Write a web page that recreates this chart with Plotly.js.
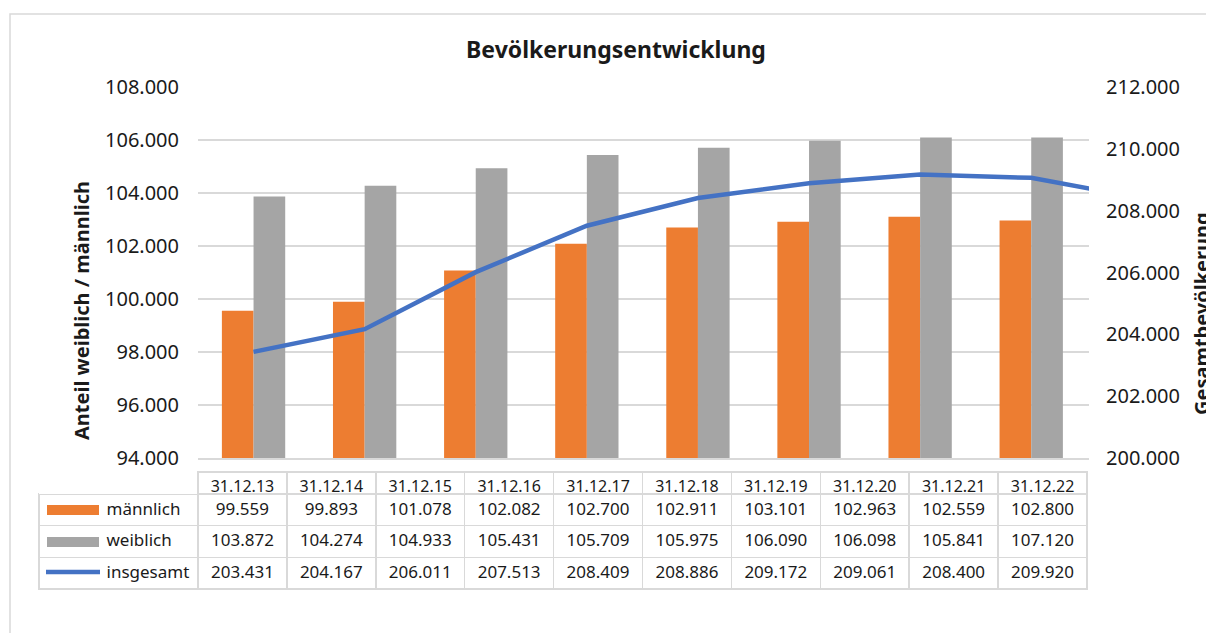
<!DOCTYPE html>
<html>
<head>
<meta charset="utf-8">
<script src="https://cdn.plot.ly/plotly-3.0.1.min.js"></script>
<style>
  html, body { margin: 0; padding: 0; background: #fff; }
  #chart { width: 1206px; height: 633px; }
</style>
</head>
<body>
<div id="chart"></div>
<script>
// ---- data ----
const categories = ['31.12.13', '31.12.14', '31.12.15', '31.12.16', '31.12.17', '31.12.18', '31.12.19', '31.12.20', '31.12.21', '31.12.22'];
const seriesNames = ['männlich', 'weiblich', 'insgesamt'];
const maennlich = [99559, 99893, 101078, 102082, 102700, 102911, 103101, 102963, 102559, 102800];
const weiblich  = [103872, 104274, 104933, 105431, 105709, 105975, 106090, 106098, 105841, 107120];
const insgesamt = [203431, 204167, 206011, 207513, 208409, 208886, 209172, 209061, 208400, 209920];
const leftTicks  = [94000, 96000, 98000, 100000, 102000, 104000, 106000, 108000];
const rightTicks = [200000, 202000, 204000, 206000, 208000, 210000, 212000];
const chartTitle = 'Bevölkerungsentwicklung';
const leftTitle = 'Anteil weiblich / männlich';
const rightTitle = 'Gesamtbevölkerung';

// ---- styles ----
const W = 1206, H = 633;
const FONT = '"Noto Sans", "Open Sans", sans-serif';
const cOrange = '#ED7D31', cGrey = '#A5A5A5', cBlue = '#4472C4';
const cGrid = '#D9D9D9', cText = '#1a1a1a';

function fmt(v) { return String(v).replace(/\B(?=(\d{3})+(?!\d))/g, '.'); }
function px(x) { return x / W; }
function py(y) { return 1 - y / H; }

const nCol = categories.length + 1;
const traces = [
  { type: 'bar', name: seriesNames[0], x: categories, y: maennlich, marker: { color: cOrange }, xaxis: 'x', yaxis: 'y', hoverinfo: 'x+y' },
  { type: 'bar', name: seriesNames[1], x: categories, y: weiblich, marker: { color: cGrey }, xaxis: 'x', yaxis: 'y', hoverinfo: 'x+y' },
  { type: 'scatter', mode: 'lines', name: seriesNames[2], x: categories, y: insgesamt, line: { color: cBlue, width: 4.5 }, xaxis: 'x', yaxis: 'y2', hoverinfo: 'x+y' },
  {
    type: 'table',
    domain: { x: [px(39), px(1087)], y: [py(620), py(472)] },
    columnwidth: [159].concat(categories.map(() => 88.9)),
    header: {
      values: [''].concat(categories),
      height: 22,
      align: 'center',
      line: { color: [ 'rgba(0,0,0,0)' ].concat(categories.map(() => cGrid)), width: [0].concat(categories.map(() => 1.5)) },
      fill: { color: 'white' },
      font: { family: FONT, size: 16, color: cText }
    },
    cells: {
      values: [seriesNames.map(n => '\u2003\u2003\u2003\u2002' + n)].concat(
        categories.map((c, i) => [fmt(maennlich[i]), fmt(weiblich[i]), fmt(insgesamt[i])])
      ),
      height: 31.7,
      align: ['left'].concat(categories.map(() => 'center')),
      line: { color: cGrid, width: 1.5 },
      fill: { color: 'white' },
      font: { family: FONT, size: 17, color: cText }
    }
  }
];

const layout = {
  width: W, height: H,
  margin: { l: 0, r: 0, t: 0, b: 0 },
  paper_bgcolor: 'white', plot_bgcolor: 'white',
  separators: ',.',
  font: { family: FONT, color: cText },
  showlegend: false,
  barmode: 'group',
  bargap: 0.43,
  bargroupgap: 0,
  title: {
    text: '<b>' + chartTitle + '</b>',
    font: { family: FONT, size: 23, color: cText },
    x: px(616), xref: 'paper', xanchor: 'center',
    y: py(50), yref: 'paper', yanchor: 'middle'
  },
  xaxis: {
    domain: [px(198), px(1089)],
    type: 'category',
    range: [-0.5, 7.52],
    showticklabels: false,
    ticks: '',
    showgrid: false,
    showline: true, linecolor: cGrid, linewidth: 1.5,
    zeroline: false
  },
  yaxis: {
    domain: [py(458), py(87)],
    range: [94000, 108000],
    tickvals: leftTicks,
    tickformat: ',.0f',
    tickfont: { family: FONT, size: 20, color: cText },
    ticks: '', ticklabelstandoff: 18,
    showgrid: true, gridcolor: cGrid, gridwidth: 1.5,
    zeroline: false, showline: false
  },
  yaxis2: {
    overlaying: 'y', side: 'right', anchor: 'x',
    range: [200000, 212000],
    tickvals: rightTicks,
    tickformat: ',.0f',
    tickfont: { family: FONT, size: 20, color: cText },
    ticks: '', ticklabelstandoff: 16,
    showgrid: false, zeroline: false, showline: false
  },
  annotations: [
    { text: '<b>' + leftTitle + '</b>', textangle: -90, xref: 'paper', yref: 'paper', x: px(82), y: py(311), xanchor: 'center', yanchor: 'middle', showarrow: false, font: { family: FONT, size: 20, color: cText } },
    { text: '<b>' + rightTitle + '</b>', textangle: -90, xref: 'paper', yref: 'paper', x: px(1201), y: py(314), xanchor: 'center', yanchor: 'middle', showarrow: false, font: { family: FONT, size: 20, color: cText } }
  ],
  shapes: [
    // outer chart border (partly outside the picture)
    { type: 'rect', xref: 'paper', yref: 'paper', x0: px(10), x1: 1.05, y0: -0.05, y1: py(14), line: { color: cGrid, width: 1.5 }, fillcolor: 'rgba(0,0,0,0)', layer: 'below' },
    // legend keys in the data table
    { type: 'rect', xref: 'paper', yref: 'paper', x0: px(47), x1: px(99), y0: py(515), y1: py(505), line: { width: 0 }, fillcolor: cOrange },
    { type: 'rect', xref: 'paper', yref: 'paper', x0: px(47), x1: px(99), y0: py(547), y1: py(537), line: { width: 0 }, fillcolor: cGrey },
    { type: 'line', xref: 'paper', yref: 'paper', x0: px(46), x1: px(100), y0: py(572), y1: py(572), line: { color: cBlue, width: 4.5 } }
  ]
};

Plotly.newPlot('chart', traces, layout, { displayModeBar: false, responsive: false });
</script>
</body>
</html>
